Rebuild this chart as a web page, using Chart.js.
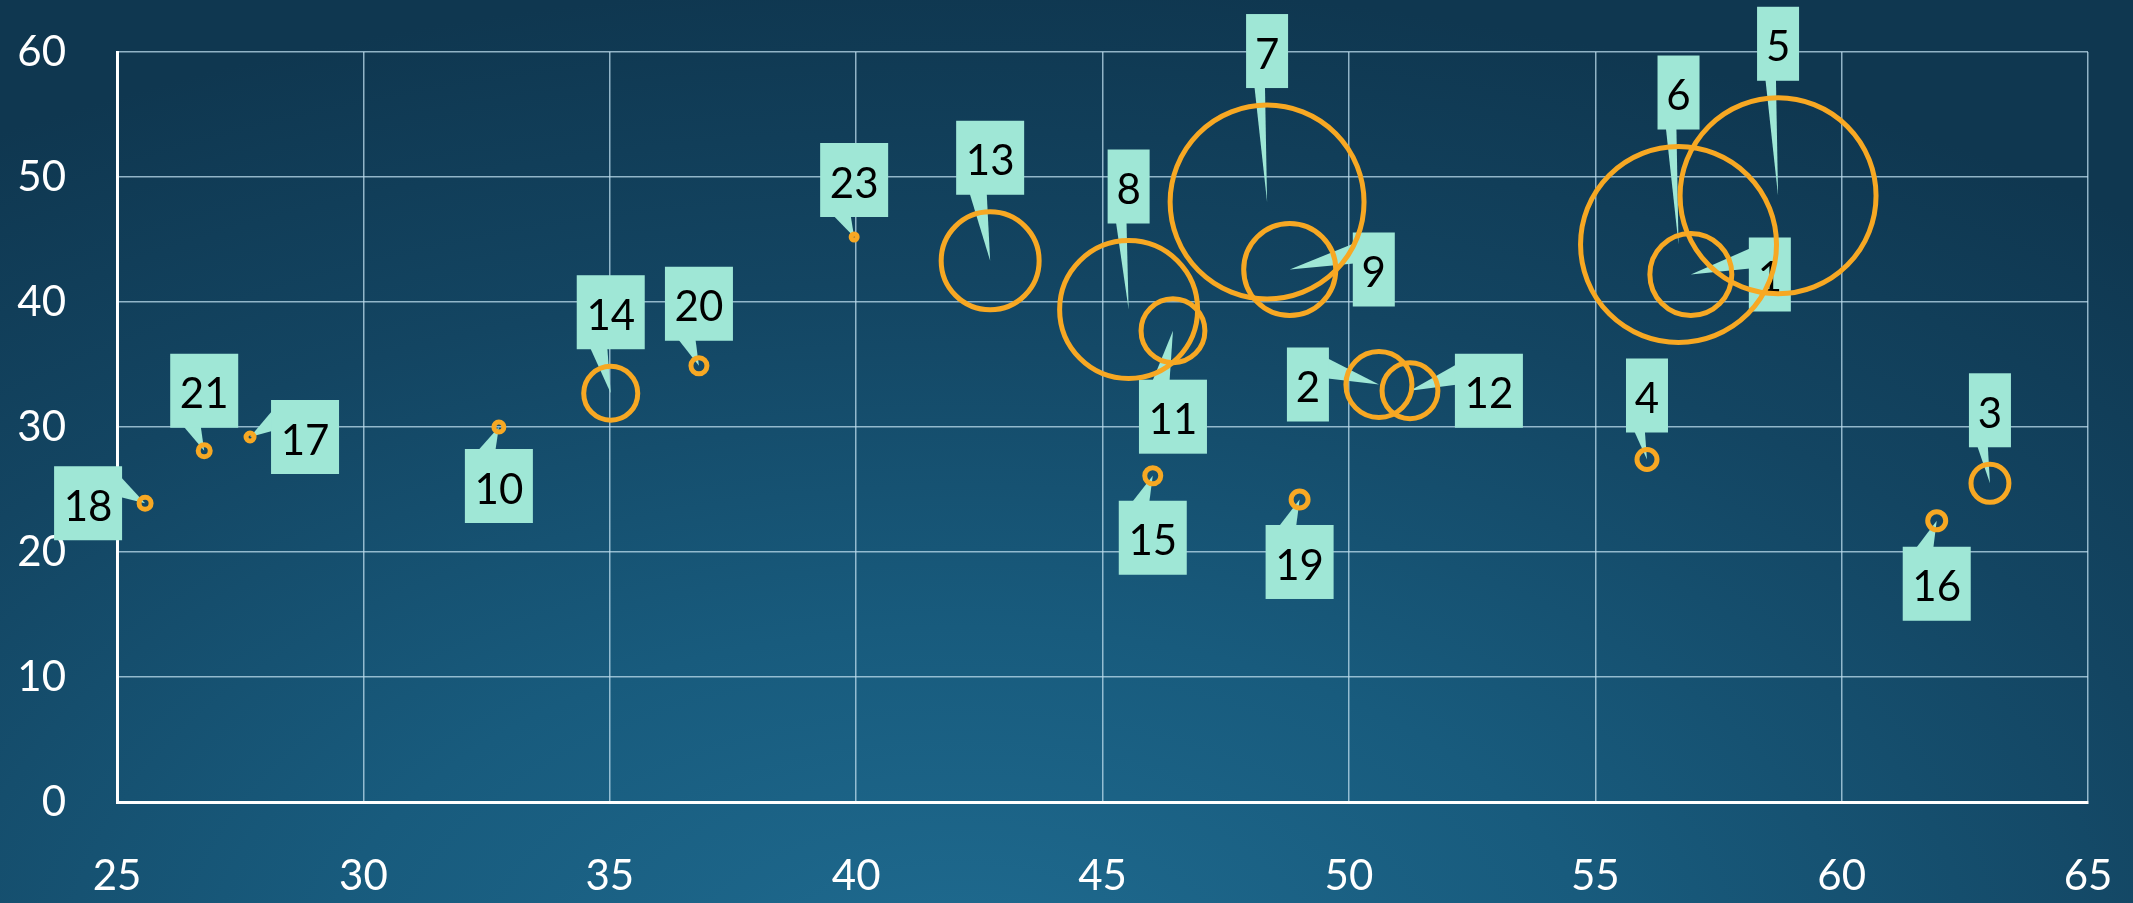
<!DOCTYPE html>
<html>
<head>
<meta charset="utf-8">
<script src="https://cdn.jsdelivr.net/npm/chart.js@4.4.1/dist/chart.umd.min.js"></script>
<style>
  html, body {
    margin: 0;
    padding: 0;
    overflow: hidden;
  }
  body {
    width: 2133px;
    height: 903px;
    background: radial-gradient(ellipse 85% 110% at 45% 108%, #1f6b90 0%, #185b7d 35%, #134562 70%, #0f3750 100%);
  }
  canvas { display: block; }
</style>
</head>
<body>
<canvas id="bubbleChart" width="2133" height="903"></canvas>
<script>
// numeros dos pontos (o 22 nao aparece no grafico)
const ids = [1, 2, 3, 4, 5, 6, 7, 8, 9, 10, 11, 12, 13, 14, 15, 16, 17, 18, 19, 20, 21, 23];
const xVals = [56.94, 50.61, 63.01, 56.05, 58.71, 56.69, 48.34, 45.53, 48.80, 32.75, 46.43,
               51.24, 42.72, 35.02, 46.02, 61.93, 27.70, 25.57, 49.00, 36.81, 26.77, 39.96];
const yVals = [42.2, 33.4, 25.5, 27.4, 48.5, 44.6, 48.0, 39.4, 42.6, 30.0, 37.7,
               32.9, 43.3, 32.7, 26.1, 22.5, 29.2, 23.9, 24.2, 34.9, 28.1, 45.2];
const sizes = [16.8, 10.9, 3.6, 1.0, 96, 96, 94, 47.6, 21.2, 0.25, 10.2,
               7.8, 24, 7.3, 0.64, 0.81, 0.16, 0.36, 0.72, 0.64, 0.36, 0.09];

const xTicks = [25, 30, 35, 40, 45, 50, 55, 60, 65];
const yTicks = [0, 10, 20, 30, 40, 50, 60];

// lado do balao de cada rotulo (t = acima, b = abaixo, l = esquerda, r = direita)
const labelSide = ['r', 'l', 't', 't', 't', 't', 't', 't', 'r', 'b', 'b',
                   'r', 't', 't', 'b', 'b', 'r', 'l', 'b', 't', 't', 't'];

const bubbleScale = 10;
const boxColor = '#9fe7d6';
const orange = '#f7a823';

const pontos = ids.map((id, i) => ({
  x: xVals[i],
  y: yVals[i],
  r: Math.sqrt(sizes[i]) * bubbleScale
}));

// desenha os baloes com o numero de cada ponto, por baixo das bolhas
const calloutPlugin = {
  id: 'callouts',
  beforeDatasetsDraw(chart) {
    const ctx = chart.ctx;
    const meta = chart.getDatasetMeta(0);
    ctx.save();
    ctx.font = '42px Lato';
    ctx.textAlign = 'center';
    ctx.textBaseline = 'middle';
    meta.data.forEach((pt, i) => {
      const x = pt.x;
      const y = pt.y;
      const r = pt.options.radius;
      const texto = String(ids[i]);
      const w = texto.length > 1 ? 68 : 42;
      const h = 74;
      const gap = r + 17;
      let bx, by, b1, b2;
      switch (labelSide[i]) {
        case 't':
          bx = x - w / 2; by = y - gap - h;
          b1 = [bx + 0.2 * w, by + h - 1]; b2 = [bx + 0.45 * w, by + h - 1];
          break;
        case 'b':
          bx = x - w / 2; by = y + gap;
          b1 = [bx + 0.2 * w, by + 1]; b2 = [bx + 0.45 * w, by + 1];
          break;
        case 'l':
          bx = x - gap - w; by = y - h / 2;
          b1 = [bx + w - 1, by + 0.15 * h]; b2 = [bx + w - 1, by + 0.42 * h];
          break;
        default:
          bx = x + gap; by = y - h / 2;
          b1 = [bx + 1, by + 0.15 * h]; b2 = [bx + 1, by + 0.42 * h];
      }
      ctx.fillStyle = boxColor;
      ctx.beginPath();
      ctx.moveTo(b1[0], b1[1]);
      ctx.lineTo(b2[0], b2[1]);
      ctx.lineTo(x, y);
      ctx.closePath();
      ctx.fill();
      ctx.fillRect(bx, by, w, h);
      ctx.fillStyle = '#000';
      ctx.fillText(texto, bx + w / 2, by + h / 2 + 4);
    });
    ctx.restore();
  }
};

const ctxBolhas = document.getElementById('bubbleChart').getContext('2d');

const chartBolhas = new Chart(ctxBolhas, {
  type: 'bubble',
  data: {
    datasets: [{
      data: pontos,
      backgroundColor: 'rgba(0,0,0,0)',
      borderColor: orange,
      borderWidth: 5,
      hoverBorderWidth: 5
    }]
  },
  options: {
    responsive: false,
    animation: false,
    devicePixelRatio: 1,
    layout: {
      autoPadding: false,
      padding: { top: 52, right: 45, left: 0, bottom: 0 }
    },
    plugins: {
      legend: { display: false },
      tooltip: { enabled: false }
    },
    scales: {
      x: {
        type: 'linear',
        min: xTicks[0],
        max: xTicks[xTicks.length - 1],
        afterBuildTicks: scale => { scale.ticks = xTicks.map(v => ({ value: v })); },
        afterFit: scale => {
          scale.height = 101;
          scale.paddingLeft = 0;
          scale.paddingRight = 0;
        },
        ticks: {
          color: '#ffffff',
          font: { family: 'Lato', size: 42 },
          padding: 49,
          maxRotation: 0
        },
        grid: {
          color: 'rgba(190, 222, 238, 0.75)',
          lineWidth: 1.5,
          drawTicks: false
        },
        border: { color: '#ffffff', width: 3 }
      },
      y: {
        min: yTicks[0],
        max: yTicks[yTicks.length - 1],
        afterBuildTicks: scale => { scale.ticks = yTicks.map(v => ({ value: v })); },
        afterFit: scale => {
          scale.width = 117;
          scale.paddingTop = 0;
          scale.paddingBottom = 0;
        },
        ticks: {
          color: '#ffffff',
          font: { family: 'Lato', size: 42 },
          padding: 51
        },
        grid: {
          color: 'rgba(190, 222, 238, 0.75)',
          lineWidth: 1.5,
          drawTicks: false
        },
        border: { color: '#ffffff', width: 3 }
      }
    }
  },
  plugins: [calloutPlugin]
});
</script>
</body>
</html>
